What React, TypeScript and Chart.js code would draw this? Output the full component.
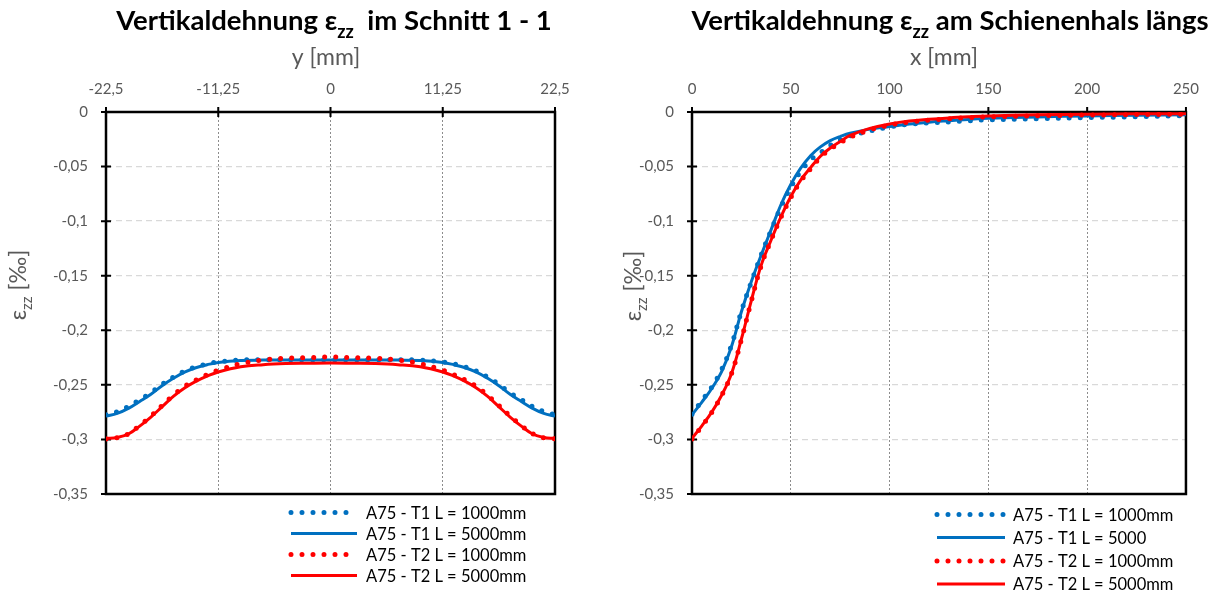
import React, { useEffect, useRef } from "react";
import { Chart, registerables } from "chart.js";

Chart.register(...registerables);

const BLUE = "#0070C0";
const RED = "#FF0000";
const FONT = "Lato, 'Open Sans', sans-serif";
const GRAY_TEXT = "#595959";

// ---------- Left chart: Schnitt 1 - 1, y [mm] ----------
const sectionY = [-22.5, -21.375, -20.25, -19.125, -18, -16.875, -15.75, -14.625, -13.5, -12.375, -11.25, -9, -6.75, -4.5, -2.25, 0, 2.25, 4.5, 6.75, 9, 11.25, 12.375, 13.5, 14.625, 15.75, 16.875, 18, 19.125, 20.25, 21.375, 22.5];
const sectionT1L1000 = [-0.2775, -0.2745, -0.2698, -0.2636, -0.2572, -0.2495, -0.2430, -0.2374, -0.2336, -0.2309, -0.2290, -0.2273, -0.2270, -0.2269, -0.2269, -0.2269, -0.2269, -0.2269, -0.2270, -0.2273, -0.2290, -0.2309, -0.2336, -0.2374, -0.2430, -0.2495, -0.2572, -0.2636, -0.2698, -0.2745, -0.2775];
const sectionT1L5000 = [-0.2786, -0.2762, -0.2715, -0.2652, -0.2586, -0.2508, -0.2440, -0.2383, -0.2343, -0.2316, -0.2295, -0.2277, -0.2273, -0.2272, -0.2272, -0.2272, -0.2272, -0.2272, -0.2273, -0.2277, -0.2295, -0.2316, -0.2343, -0.2383, -0.2440, -0.2508, -0.2586, -0.2652, -0.2715, -0.2762, -0.2786];
const sectionT2L1000 = [-0.2995, -0.2985, -0.2948, -0.2872, -0.2786, -0.2690, -0.2595, -0.2515, -0.2456, -0.2407, -0.2366, -0.2306, -0.2273, -0.2256, -0.2250, -0.2245, -0.2250, -0.2256, -0.2273, -0.2306, -0.2366, -0.2407, -0.2456, -0.2515, -0.2595, -0.2690, -0.2786, -0.2872, -0.2948, -0.2985, -0.2995];
const sectionT2L5000 = [-0.2990, -0.2982, -0.2950, -0.2878, -0.2795, -0.2700, -0.2605, -0.2528, -0.2468, -0.2420, -0.2382, -0.2335, -0.2315, -0.2305, -0.2302, -0.2300, -0.2302, -0.2305, -0.2315, -0.2335, -0.2382, -0.2420, -0.2468, -0.2528, -0.2605, -0.2700, -0.2795, -0.2878, -0.2950, -0.2982, -0.2990];

// ---------- Right chart: Schienenhals längs, x [mm] ----------
const longX = [0, 5, 10, 15, 20, 25, 30, 35, 40, 45, 50, 55, 60, 65, 70, 75, 80, 90, 100, 110, 120, 130, 140, 150, 175, 200, 225, 250];
const longT1L1000 = [-0.2770, -0.2645, -0.2520, -0.2360, -0.2135, -0.1825, -0.1560, -0.1310, -0.1085, -0.0870, -0.0690, -0.0545, -0.0440, -0.0373, -0.0305, -0.0255, -0.0218, -0.0175, -0.0138, -0.0112, -0.0100, -0.0092, -0.0080, -0.0072, -0.0062, -0.0052, -0.0043, -0.0032];
const longT1L5000 = [-0.2775, -0.2658, -0.2533, -0.2378, -0.2148, -0.1830, -0.1555, -0.1312, -0.1080, -0.0850, -0.0665, -0.0515, -0.0400, -0.0320, -0.0262, -0.0225, -0.0195, -0.0157, -0.0133, -0.0110, -0.0093, -0.0080, -0.0068, -0.0058, -0.0045, -0.0036, -0.0030, -0.0025];
const longT2L1000 = [-0.2995, -0.2878, -0.2752, -0.2597, -0.2398, -0.2085, -0.1735, -0.1408, -0.1175, -0.0965, -0.0785, -0.0635, -0.0520, -0.0415, -0.0340, -0.0282, -0.0230, -0.0165, -0.0120, -0.0092, -0.0075, -0.0062, -0.0052, -0.0045, -0.0035, -0.0028, -0.0024, -0.0020];
const longT2L5000 = [-0.2990, -0.2875, -0.2750, -0.2595, -0.2395, -0.2080, -0.1730, -0.1405, -0.1175, -0.0960, -0.0775, -0.0625, -0.0510, -0.0405, -0.0330, -0.0270, -0.0215, -0.0150, -0.0110, -0.0083, -0.0067, -0.0054, -0.0044, -0.0036, -0.0026, -0.0020, -0.0017, -0.0015];

const leftLabels = ["A75 - T1 L = 1000mm", "A75 - T1 L = 5000mm", "A75 - T2 L = 1000mm", "A75 - T2 L = 5000mm"];
const rightLabels = ["A75 - T1 L = 1000mm", "A75 - T1 L = 5000", "A75 - T2 L = 1000mm", "A75 - T2 L = 5000mm"];

const yMin = -0.35;
const yMax = 0;
const yStep = 0.05;

function fmt(v: number): string {
  return String(Math.round(v * 10000) / 10000).replace(".", ",");
}

type Seg = { t: string; sub?: boolean };

function drawRich(ctx: CanvasRenderingContext2D, segs: Seg[], x: number, y: number, size: number, weight: string, color: string) {
  const fMain = `${weight} ${size}px ${FONT}`;
  const fSub = `${weight} ${Math.round(size * 0.66)}px ${FONT}`;
  let total = 0;
  const widths = segs.map((s) => {
    ctx.font = s.sub ? fSub : fMain;
    const w = ctx.measureText(s.t).width;
    total += w;
    return w;
  });
  let cx = x - total / 2;
  ctx.fillStyle = color;
  ctx.textAlign = "left";
  ctx.textBaseline = "alphabetic";
  segs.forEach((s, i) => {
    ctx.font = s.sub ? fSub : fMain;
    ctx.fillText(s.t, cx, s.sub ? y + size * 0.28 : y);
    cx += widths[i];
  });
}

type Layout = {
  title: Seg[];
  titleX: number;
  axisTitle: string;
  axisTitleX: number;
  yTitleX: number;
  yTitleY: number;
  legendX1: number;
  legendX2: number;
  legendTextX: number;
  legendRows: number[];
};

function makePlugin(L: Layout) {
  return {
    id: "decor",
    beforeDatasetsDraw(chart: any) {
      const ctx: CanvasRenderingContext2D = chart.ctx;
      const a = chart.chartArea;
      const xs = chart.scales.x;
      const ys = chart.scales.y;
      ctx.save();
      ctx.strokeStyle = "#000";
      ctx.lineWidth = 2.5;
      ctx.setLineDash([]);
      ctx.strokeRect(a.left, a.top, a.right - a.left, a.bottom - a.top);
      ctx.lineWidth = 2;
      ctx.beginPath();
      xs.ticks.forEach((t: any) => {
        const px = xs.getPixelForValue(t.value);
        ctx.moveTo(px, a.top - 5);
        ctx.lineTo(px, a.top + 5);
      });
      ys.ticks.forEach((t: any) => {
        const py = ys.getPixelForValue(t.value);
        ctx.moveTo(a.left - 5, py);
        ctx.lineTo(a.left + 5, py);
      });
      ctx.stroke();
      ctx.restore();
    },
    afterDraw(chart: any) {
      const ctx: CanvasRenderingContext2D = chart.ctx;
      ctx.save();
      drawRich(ctx, L.title, L.titleX, 30, 27.5, "bold", "#000");
      ctx.font = `23px ${FONT}`;
      ctx.fillStyle = GRAY_TEXT;
      ctx.textAlign = "center";
      ctx.textBaseline = "alphabetic";
      ctx.fillText(L.axisTitle, L.axisTitleX, 65);
      ctx.save();
      ctx.translate(L.yTitleX, L.yTitleY);
      ctx.rotate(-Math.PI / 2);
      drawRich(ctx, [{ t: "ε" }, { t: "zz", sub: true }, { t: " [‰]" }], 0, 7, 23, "normal", GRAY_TEXT);
      ctx.restore();
      chart.data.datasets.forEach((ds: any, i: number) => {
        const y = L.legendRows[i];
        ctx.save();
        ctx.strokeStyle = ds.borderColor;
        if (ds.borderDash && ds.borderDash.length) {
          ctx.lineWidth = 5;
          ctx.lineCap = "round";
          ctx.setLineDash([0, 11]);
        } else {
          ctx.lineWidth = 3.2;
          ctx.lineCap = "butt";
          ctx.setLineDash([]);
        }
        ctx.beginPath();
        ctx.moveTo(L.legendX1, y);
        ctx.lineTo(L.legendX2, y);
        ctx.stroke();
        ctx.restore();
        ctx.font = `16.5px ${FONT}`;
        ctx.fillStyle = "#000";
        ctx.textAlign = "left";
        ctx.textBaseline = "middle";
        ctx.fillText(ds.label, L.legendTextX, y + 1);
      });
      ctx.restore();
    },
  };
}

function makeDataset(label: string, xs: number[], ys: number[], color: string, dotted: boolean, order: number) {
  return {
    label,
    data: xs.map((x, i) => ({ x, y: ys[i] })),
    borderColor: color,
    backgroundColor: color,
    borderWidth: dotted ? 5 : 3,
    borderDash: dotted ? [0, 11] : [],
    borderCapStyle: dotted ? "round" : "butt",
    borderJoinStyle: "round",
    pointRadius: 0,
    pointHoverRadius: 0,
    fill: false,
    tension: 0.4,
    order,
  };
}

function makeConfig(opts: {
  datasets: any[];
  xMin: number;
  xMax: number;
  xStep: number;
  yAxisWidth: number;
  padRight: number;
  layout: Layout;
}) {
  return {
    type: "line",
    data: { datasets: opts.datasets },
    options: {
      responsive: false,
      animation: false,
      devicePixelRatio: 1,
      events: [],
      layout: { autoPadding: false, padding: { left: 0, right: opts.padRight, top: 0, bottom: 97 } },
      plugins: { legend: { display: false }, title: { display: false }, tooltip: { enabled: false } },
      scales: {
        x: {
          type: "linear",
          position: "top",
          min: opts.xMin,
          max: opts.xMax,
          afterFit: (s: any) => {
            s.height = 112;
          },
          ticks: {
            stepSize: opts.xStep,
            autoSkip: false,
            maxRotation: 0,
            padding: 14,
            color: GRAY_TEXT,
            font: { family: FONT, size: 15 },
            callback: (v: any) => fmt(Number(v)),
          },
          grid: { color: "#8c8c8c", lineWidth: 1, drawTicks: false },
          border: { display: false, dash: [2, 2] },
        },
        y: {
          type: "linear",
          position: "left",
          min: yMin,
          max: yMax,
          afterFit: (s: any) => {
            s.width = opts.yAxisWidth;
          },
          ticks: {
            stepSize: yStep,
            autoSkip: false,
            padding: 18,
            color: GRAY_TEXT,
            font: { family: FONT, size: 15 },
            callback: (v: any) => fmt(Number(v)),
          },
          grid: { color: "#d9d9d9", lineWidth: 1.3, drawTicks: false },
          border: { display: false, dash: [6, 4] },
        },
      },
    },
    plugins: [makePlugin(opts.layout)],
  };
}

function ChartPanel({ config, left, width }: { config: any; left: number; width: number }) {
  const ref = useRef<HTMLCanvasElement>(null);
  useEffect(() => {
    const chart = new Chart(ref.current as HTMLCanvasElement, config);
    return () => chart.destroy();
  }, [config]);
  return (
    <canvas
      ref={ref}
      width={width}
      height={591}
      style={{ position: "absolute", left, top: 0, width, height: 591, display: "block" }}
    />
  );
}

const leftConfig = makeConfig({
  datasets: [
    makeDataset(leftLabels[0], sectionY, sectionT1L1000, BLUE, true, 4),
    makeDataset(leftLabels[1], sectionY, sectionT1L5000, BLUE, false, 3),
    makeDataset(leftLabels[2], sectionY, sectionT2L1000, RED, true, 2),
    makeDataset(leftLabels[3], sectionY, sectionT2L5000, RED, false, 1),
  ],
  xMin: -22.5,
  xMax: 22.5,
  xStep: 11.25,
  yAxisWidth: 106,
  padRight: 51,
  layout: {
    title: [{ t: "Vertikaldehnung ε" }, { t: "zz", sub: true }, { t: "  im Schnitt 1 - 1" }],
    titleX: 334,
    axisTitle: "y [mm]",
    axisTitleX: 326,
    yTitleX: 19,
    yTitleY: 285,
    legendX1: 291,
    legendX2: 357,
    legendTextX: 366,
    legendRows: [512.5, 533.5, 554.5, 575.5],
  },
});

const rightConfig = makeConfig({
  datasets: [
    makeDataset(rightLabels[0], longX, longT1L1000, BLUE, true, 4),
    makeDataset(rightLabels[1], longX, longT1L5000, BLUE, false, 3),
    makeDataset(rightLabels[2], longX, longT2L1000, RED, true, 2),
    makeDataset(rightLabels[3], longX, longT2L5000, RED, false, 1),
  ],
  xMin: 0,
  xMax: 250,
  xStep: 50,
  yAxisWidth: 86,
  padRight: 26,
  layout: {
    title: [{ t: "Vertikaldehnung ε" }, { t: "zz", sub: true }, { t: " am Schienenhals längs" }],
    titleX: 344,
    axisTitle: "x [mm]",
    axisTitleX: 338,
    yTitleX: 28,
    yTitleY: 286,
    legendX1: 331,
    legendX2: 399,
    legendTextX: 407,
    legendRows: [514.5, 537.5, 561, 584],
  },
});

export default function App() {
  return (
    <div style={{ position: "absolute", left: 0, top: 0, width: 1213, height: 591, background: "#fff", overflow: "hidden" }}>
      <ChartPanel config={leftConfig} left={0} width={606} />
      <ChartPanel config={rightConfig} left={606} width={607} />
    </div>
  );
}
